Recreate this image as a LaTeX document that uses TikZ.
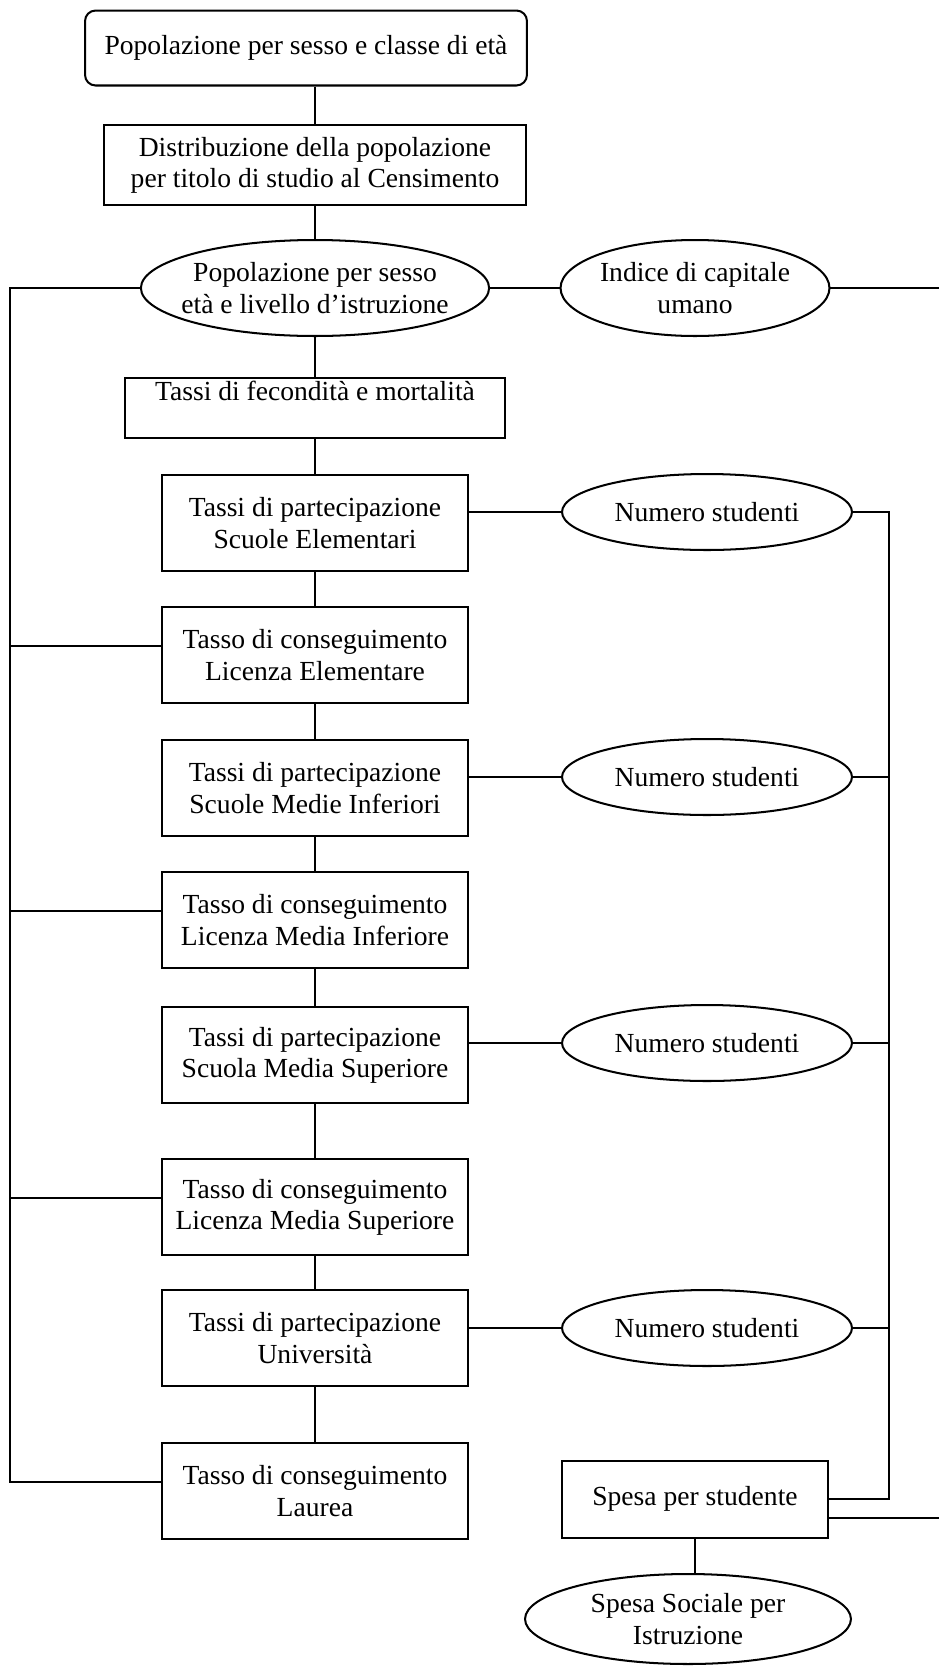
\documentclass[tikz,border=0pt]{standalone}
\usepackage{fontspec}
\setmainfont{Liberation Serif}
\usetikzlibrary{shapes.geometric,calc}

\begin{document}
\begin{tikzpicture}[x=0.02cm,y=-0.02cm,line width=1.15pt,
  font=\fontsize{15.7}{17.8}\selectfont,
  box/.style={draw,rectangle,align=center,inner sep=2pt},
  rbox/.style={box,rounded corners=6pt},
  oval/.style={draw,ellipse,align=center,inner sep=0pt},
  stepbox/.style={box,minimum width=6.14cm,minimum height=1.92cm},
  nstud/.style={oval,minimum width=5.8cm,minimum height=1.52cm}]
  \useasboundingbox (0,0) rectangle (939,1667);
  % main column
  \node[rbox,minimum width=8.84cm,minimum height=1.5cm] (pop0) at (306,48) {Popolazione per sesso e classe di età};
  \node[box,minimum width=8.44cm,minimum height=1.6cm] (dist) at (315,165) {Distribuzione della popolazione\\per titolo di studio al Censimento};
  \node[oval,inner xsep=-6pt,minimum width=6.9cm,minimum height=1.92cm] (popl) at (315,288) {Popolazione per sesso\\età e livello d'istruzione};
  \node[oval,minimum width=5.38cm,minimum height=1.92cm] (ind) at (695,288) {Indice di capitale\\umano};
  \node[box,minimum width=7.62cm,minimum height=1.16cm] (tfm) at (315,408) {Tassi di fecondità e mortalità\\[-4pt]\strut};
  \node[stepbox] (tp1) at (315,523) {Tassi di partecipazione\\Scuole Elementari};
  \node[stepbox] (tc1) at (315,655) {Tasso di conseguimento\\Licenza Elementare};
  \node[stepbox] (tp2) at (315,788) {Tassi di partecipazione\\Scuole Medie Inferiori};
  \node[stepbox] (tc2) at (315,920) {Tasso di conseguimento\\Licenza Media Inferiore};
  \node[stepbox] (tp3) at (315,1055) {Tassi di partecipazione\\Scuola Media Superiore};
  \node[stepbox] (tc3) at (315,1207) {Tasso di conseguimento\\Licenza Media Superiore};
  \node[stepbox] (tp4) at (315,1338) {Tassi di partecipazione\\Università};
  \node[stepbox] (tc4) at (315,1491) {Tasso di conseguimento\\Laurea};
  % right column
  \node[nstud] (ns1) at (707,512) {Numero studenti};
  \node[nstud] (ns2) at (707,777) {Numero studenti};
  \node[nstud] (ns3) at (707,1043) {Numero studenti};
  \node[nstud] (ns4) at (707,1328) {Numero studenti};
  \node[box,minimum width=5.34cm,minimum height=1.54cm] (spesa) at (695,1499) {Spesa per studente};
  \node[oval,minimum width=6.52cm,minimum height=1.8cm] (soc) at (688,1619) {Spesa Sociale per\\Istruzione};
  \coordinate (lbus) at (10,0);
  \coordinate (rbus) at (889,0);
  \coordinate (edge) at (939,0);
  \coordinate (tc4l) at ([yshift=0.18cm]tc4.west);
  % connectors
  \draw (pop0.south -| dist.north) -- (dist.north);
  \draw (dist.south) -- (popl.north);
  \draw (popl.south) -- (tfm.north);
  \foreach \a/\b in {tfm/tp1,tp1/tc1,tc1/tp2,tp2/tc2,tc2/tp3,tp3/tc3,tc3/tp4,tp4/tc4}
    \draw (\a.south) -- (\b.north);
  \draw (popl.east) -- (ind.west);
  \draw (ind.east) -- (ind.east -| edge);
  \foreach \s/\n in {tp1/ns1,tp2/ns2,tp3/ns3,tp4/ns4}
    \draw (\n.west -| \s.east) -- (\n.west);
  \foreach \n in {ns2,ns3,ns4}
    \draw (\n.east) -- (\n.east -| rbus);
  \draw (ns1.east) -| (rbus |- spesa.east) -- (spesa.east);
  \draw ([yshift=-0.37cm]spesa.east) -- ([yshift=-0.37cm]spesa.east -| edge);
  \draw (spesa.south) -- (spesa.south |- soc.north);
  % left side
  \foreach \c in {tc1,tc2,tc3}
    \draw ([yshift=0.18cm]\c.west) -- ([yshift=0.18cm]\c.west -| lbus);
  \draw (popl.west) -| (lbus |- tc4l) -- (tc4l);
\end{tikzpicture}
\end{document}
